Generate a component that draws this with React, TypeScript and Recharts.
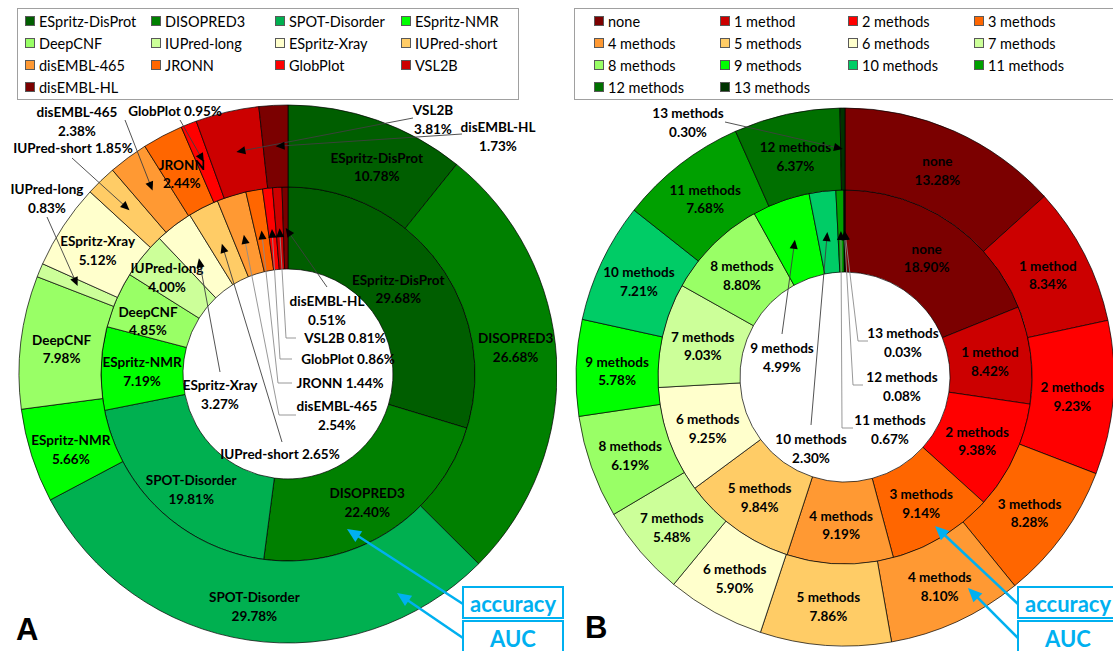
import { PieChart, Pie, Cell } from "recharts";

// Panel A: share of proteins on which each predictor is the best one
const METHODS = [
  "ESpritz-DisProt",
  "DISOPRED3",
  "SPOT-Disorder",
  "ESpritz-NMR",
  "DeepCNF",
  "IUPred-long",
  "ESpritz-Xray",
  "IUPred-short",
  "disEMBL-465",
  "JRONN",
  "GlobPlot",
  "VSL2B",
  "disEMBL-HL",
];
const METHOD_ACCURACY = [29.68, 22.4, 19.81, 7.19, 4.85, 4.0, 3.27, 2.65, 2.54, 1.44, 0.86, 0.81, 0.51];
const METHOD_AUC = [10.78, 26.68, 29.78, 5.66, 7.98, 0.83, 5.12, 1.85, 2.38, 2.44, 0.95, 3.81, 1.73];
const METHOD_COLORS = [
  "#005E00", "#008000", "#00B050", "#00FF00", "#99FF66", "#CCFF99", "#FFFFCC",
  "#FFCC66", "#FF9933", "#FF6600", "#FF0000", "#CC0000", "#7B0000",
];

// Panel B: how many methods reach a given level on a protein
const AGREEMENT = [
  "none", "1 method", "2 methods", "3 methods", "4 methods", "5 methods", "6 methods",
  "7 methods", "8 methods", "9 methods", "10 methods", "11 methods", "12 methods", "13 methods",
];
const AGREEMENT_ACCURACY = [18.9, 8.42, 9.38, 9.14, 9.19, 9.84, 9.25, 9.03, 8.8, 4.99, 2.3, 0.67, 0.08, 0.03];
const AGREEMENT_AUC = [13.28, 8.34, 9.23, 8.28, 8.1, 7.86, 5.9, 5.48, 6.19, 5.78, 7.21, 7.68, 6.37, 0.3];
const AGREEMENT_COLORS = [
  "#7B0000", "#CC0000", "#FF0000", "#FF6600", "#FF9933", "#FFCC66", "#FFFFCC",
  "#CCFF99", "#99FF66", "#00FF00", "#00CC66", "#00A000", "#007000", "#003300",
];

const FONT = "Lato, 'Open Sans', sans-serif";
const BLUE = "#00B0F0";
const RAD = Math.PI / 180;
const LINE_GAP = 18.5;

const rows = (names: string[], values: number[]) =>
  names.map((name, i) => ({ name, value: values[i] }));

// small slices get their label moved out, with a leader line back to the slice
type Callout = {
  x: number;
  y: number;
  one?: boolean;
  from: [number, number];
  elbow?: [number, number];
  soft?: boolean;
};
// hand-placed shifts for a few in-slice labels
type Nudge = Record<string, [number, number]>;

const A_OUTER: Record<string, Callout> = {
  "IUPred-long": { x: 47, y: 189, from: [47, 217] },
  "IUPred-short": { x: 73, y: 148, one: true, from: [72, 158] },
  "disEMBL-465": { x: 77, y: 112, from: [125, 120] },
  GlobPlot: { x: 175, y: 111, one: true, from: [180, 120] },
  VSL2B: { x: 433, y: 110, from: [413, 118] },
  "disEMBL-HL": { x: 498, y: 127, from: [462, 134] },
};
const A_INNER: Record<string, Callout> = {
  "ESpritz-Xray": { x: 220, y: 385, from: [220, 372] },
  "IUPred-short": { x: 280, y: 454, one: true, from: [282, 442] },
  "disEMBL-465": { x: 337, y: 406, from: [296, 415], elbow: [279, 415], soft: true },
  JRONN: { x: 340, y: 383, one: true, from: [292, 383], elbow: [278, 383], soft: true },
  GlobPlot: { x: 348, y: 359, one: true, from: [292, 359], elbow: [280, 359], soft: true },
  VSL2B: { x: 345, y: 338, one: true, from: [296, 338], elbow: [286, 338], soft: true },
  "disEMBL-HL": { x: 327, y: 301, from: [327, 287] },
};
const A_OUTER_NUDGE: Nudge = {
  "ESpritz-DisProt": [13, 6],
  DISOPRED3: [0, -16],
  "SPOT-Disorder": [0, 5],
  "ESpritz-NMR": [0, 4],
};
const A_INNER_NUDGE: Nudge = {
  "ESpritz-DisProt": [-7, 0],
  DISOPRED3: [0, 4],
  "SPOT-Disorder": [3, 7],
  "IUPred-long": [-8, -6],
  DeepCNF: [-6, 3],
};
const B_OUTER: Record<string, Callout> = {
  "13 methods": { x: 131, y: 113, from: [168, 122] },
};
const B_INNER: Record<string, Callout> = {
  "9 methods": { x: 225, y: 348, from: [225, 334] },
  "10 methods": { x: 254, y: 439, from: [254, 425] },
  "11 methods": { x: 333, y: 420, from: [296, 428], elbow: [285, 428], soft: true },
  "12 methods": { x: 345, y: 377, from: [306, 385], elbow: [296, 385], soft: true },
  "13 methods": { x: 346, y: 333, from: [311, 341], elbow: [301, 341], soft: true },
};

function Arrow({ pts, color, width, head = 9 }: { pts: number[][]; color: string; width: number; head?: number }) {
  const [tx, ty] = pts[pts.length - 1];
  const [sx, sy] = pts[pts.length - 2];
  const len = Math.hypot(tx - sx, ty - sy) || 1;
  const ux = (tx - sx) / len;
  const uy = (ty - sy) / len;
  const w = head * 0.45;
  const bx = tx - ux * head;
  const by = ty - uy * head;
  const line = [...pts.slice(0, -1), [tx - ux * head * 0.6, ty - uy * head * 0.6]];
  return (
    <g>
      <polyline
        points={line.map((p) => p.join(",")).join(" ")}
        fill="none"
        stroke={color}
        strokeWidth={width}
      />
      <polygon
        points={`${tx},${ty} ${bx - uy * w},${by + ux * w} ${bx + uy * w},${by - ux * w}`}
        fill={color === BLUE ? BLUE : "#000"}
      />
    </g>
  );
}

function Lines({ x, y, lines }: { x: number; y: number; lines: string[] }) {
  return (
    <text
      x={x}
      y={y}
      textAnchor="middle"
      fontFamily={FONT}
      fontWeight={700}
      fontSize={13.5}
      fill="#000"
    >
      {lines.map((t, i) => (
        <tspan key={i} x={x} y={y + i * LINE_GAP} dominantBaseline="central">
          {t}
        </tspan>
      ))}
    </text>
  );
}

const ringLabel = (callouts: Record<string, Callout>, nudge: Nudge = {}) => (props: any) => {
  const { cx, cy, midAngle, innerRadius, outerRadius, name, value } = props;
  const r = (innerRadius + outerRadius) / 2;
  const px = cx + r * Math.cos(-midAngle * RAD);
  const py = cy + r * Math.sin(-midAngle * RAD);
  const pct = `${Number(value).toFixed(2)}%`;
  const c = callouts[name];
  if (!c) {
    const [dx, dy] = nudge[name] ?? [0, 0];
    return <Lines x={px + dx} y={py - LINE_GAP / 2 + 2 + dy} lines={[name, pct]} />;
  }
  const pts = [c.from, ...(c.elbow ? [c.elbow] : []), [px, py]];
  return (
    <g>
      <Arrow pts={pts} color={c.soft ? "#8C8C8C" : "#404040"} width={0.9} />
      <Lines x={c.x} y={c.y} lines={c.one ? [`${name} ${pct}`] : [name, pct]} />
    </g>
  );
};

function DoubleDonut({
  inner,
  outer,
  colors,
  innerCallouts,
  outerCallouts,
  innerNudge,
  outerNudge,
  cy,
  width,
}: {
  inner: { name: string; value: number }[];
  outer: { name: string; value: number }[];
  colors: string[];
  innerCallouts: Record<string, Callout>;
  outerCallouts: Record<string, Callout>;
  innerNudge?: Nudge;
  outerNudge?: Nudge;
  cy: number;
  width: number;
}) {
  return (
    <PieChart width={width} height={651} margin={{ top: 0, right: 0, bottom: 0, left: 0 }}>
      <Pie
        data={inner}
        dataKey="value"
        nameKey="name"
        cx={288}
        cy={cy}
        innerRadius={105}
        outerRadius={187}
        startAngle={90}
        endAngle={-270}
        isAnimationActive={false}
        labelLine={false}
        label={ringLabel(innerCallouts, innerNudge)}
      >
        {inner.map((d, i) => (
          <Cell key={d.name} fill={colors[i]} stroke="#000" strokeWidth={0.7} />
        ))}
      </Pie>
      <Pie
        data={outer}
        dataKey="value"
        nameKey="name"
        cx={288}
        cy={cy}
        innerRadius={187}
        outerRadius={269}
        startAngle={90}
        endAngle={-270}
        isAnimationActive={false}
        labelLine={false}
        label={ringLabel(outerCallouts, outerNudge)}
      >
        {outer.map((d, i) => (
          <Cell key={d.name} fill={colors[i]} stroke="#000" strokeWidth={0.7} />
        ))}
      </Pie>
    </PieChart>
  );
}

function LegendBox({
  names,
  colors,
  left,
  width,
  colX,
}: {
  names: string[];
  colors: string[];
  left: number;
  width: number;
  colX: number[];
}) {
  return (
    <div
      style={{
        position: "absolute",
        left,
        top: 8,
        width,
        height: 90,
        border: "1px solid #A0A0A0",
        background: "#fff",
      }}
    >
      {names.map((n, i) => (
        <div
          key={n}
          style={{
            position: "absolute",
            left: colX[i % 4] - left,
            top: 12 + Math.floor(i / 4) * 22 - 10,
            height: 20,
            display: "flex",
            alignItems: "center",
            fontFamily: FONT,
            fontSize: 14.5,
            color: "#000",
            whiteSpace: "nowrap",
          }}
        >
          <span
            style={{
              width: 8,
              height: 8,
              background: colors[i],
              border: "1px solid #595959",
              marginRight: 4,
              display: "inline-block",
            }}
          />
          {n}
        </div>
      ))}
    </div>
  );
}

function Callouts() {
  const boxes = [
    { x: 463, acc: [347, 529], auc: [397, 593] },
    { x: 1018, acc: [935, 526], auc: [968, 588] },
  ];
  return (
    <svg
      width={1113}
      height={651}
      style={{ position: "absolute", left: 0, top: 0, pointerEvents: "none" }}
    >
      {boxes.map((b) => (
        <g key={b.x}>
          <Arrow pts={[[b.x, 604], b.acc]} color={BLUE} width={2.5} head={14} />
          <Arrow pts={[[b.x, 638], b.auc]} color={BLUE} width={2.5} head={14} />
          <rect x={b.x} y={587} width={100} height={31} fill="#fff" stroke={BLUE} strokeWidth={2} />
          <rect x={b.x} y={621} width={100} height={36} fill="#fff" stroke={BLUE} strokeWidth={2} />
          <text x={b.x + 50} y={603} textAnchor="middle" dominantBaseline="central" fontFamily={FONT} fontWeight={700} fontSize={22} fill={BLUE}>
            accuracy
          </text>
          <text x={b.x + 50} y={638} textAnchor="middle" dominantBaseline="central" fontFamily={FONT} fontWeight={700} fontSize={22} fill={BLUE}>
            AUC
          </text>
        </g>
      ))}
      <text x={16} y={640} fontFamily="'Liberation Sans', Arial, sans-serif" fontWeight={700} fontSize={31} fill="#000">
        A
      </text>
      <text x={585} y={638} fontFamily="'Liberation Sans', Arial, sans-serif" fontWeight={700} fontSize={31} fill="#000">
        B
      </text>
    </svg>
  );
}

export default function App() {
  return (
    <div style={{ position: "absolute", left: 0, top: 0, width: 1113, height: 651, background: "#fff", overflow: "hidden" }}>
      <div style={{ position: "absolute", left: 0, top: 0 }}>
        <DoubleDonut
          inner={rows(METHODS, METHOD_ACCURACY)}
          outer={rows(METHODS, METHOD_AUC)}
          colors={METHOD_COLORS}
          innerCallouts={A_INNER}
          outerCallouts={A_OUTER}
          innerNudge={A_INNER_NUDGE}
          outerNudge={A_OUTER_NUDGE}
          cy={374}
          width={557}
        />
      </div>
      <div style={{ position: "absolute", left: 557, top: 0 }}>
        <DoubleDonut
          inner={rows(AGREEMENT, AGREEMENT_ACCURACY)}
          outer={rows(AGREEMENT, AGREEMENT_AUC)}
          colors={AGREEMENT_COLORS}
          innerCallouts={B_INNER}
          outerCallouts={B_OUTER}
          cy={377}
          width={556}
        />
      </div>
      <LegendBox names={METHODS} colors={METHOD_COLORS} left={17} width={500} colX={[24, 150, 274, 400]} />
      <LegendBox names={AGREEMENT} colors={AGREEMENT_COLORS} left={574} width={560} colX={[593, 719, 847, 973]} />
      <Callouts />
    </div>
  );
}
